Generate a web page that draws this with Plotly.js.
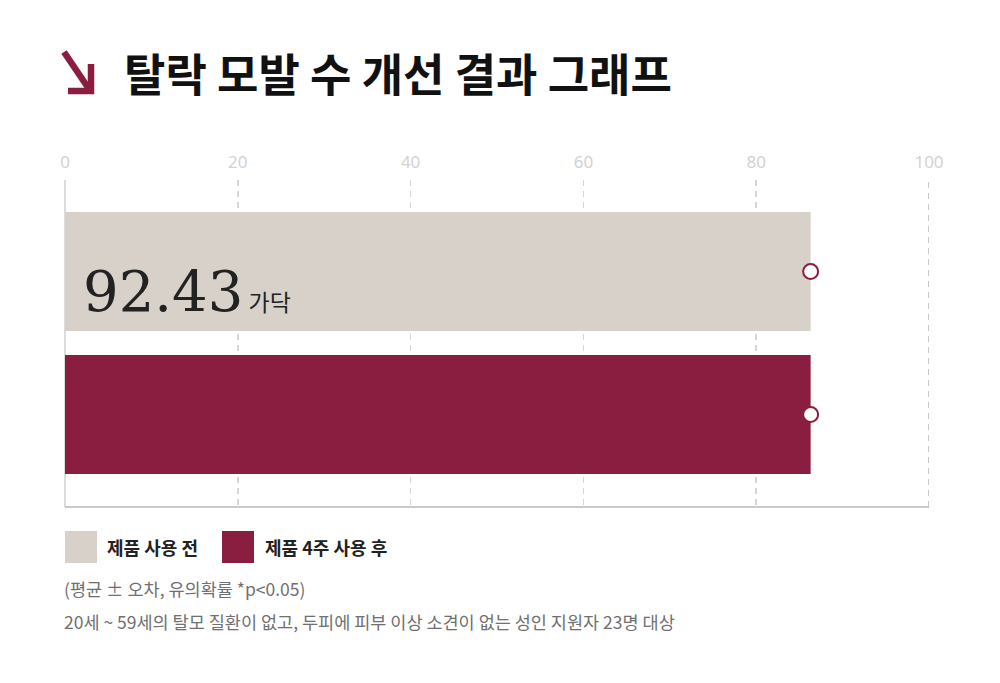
<!DOCTYPE html>
<html>
<head>
<meta charset="utf-8">
<script src="https://cdn.plot.ly/plotly-3.0.1.min.js"></script>
<style>
  body { margin: 0; background: #fff; }
  #chart { width: 1000px; height: 683px; }
</style>
</head>
<body>
<div id="chart"></div>
<script>
// data
var groups = ["제품 4주 사용 후", "제품 사용 전"];
var values = [86.3, 86.3];
var tickVals = [0, 20, 40, 60, 80, 100];
var resultLabel = "92.43";
var resultUnit = "가닥";
var titleText = "탈락 모발 수 개선 결과 그래프";
var noteLines = ["(평균 ± 오차, 유의확률 *p<0.05)",
  "20세 ~ 59세의 탈모 질환이 없고, 두피에 피부 이상 소견이 없는 성인 지원자 23명 대상"];

var BEIGE = "#d8d1ca", CRIMSON = "#8a1e40";
var barColors = [CRIMSON, BEIGE];

// plot area is 65..929 x 180..507 in page pixels
function PX(x) { return (x - 65) / 864; }
function PY(y) { return (507 - y) / 327; }

var bars = {
  type: "bar", orientation: "h",
  x: values, y: groups,
  width: 0.832,
  marker: { color: barColors },
  hoverinfo: "skip"
};

var ends = {
  type: "scatter", mode: "markers",
  x: values, y: groups,
  marker: { symbol: "circle", size: 15, color: "#fff", line: { color: CRIMSON, width: 2 } },
  hoverinfo: "skip"
};

var shapes = [
  // darker dashed line at 100
  { type: "line", xref: "x", yref: "paper", x0: 100, x1: 100, y0: 0, y1: 1,
    line: { color: "#b8b8b8", width: 1.5, dash: "6px,5px" } },
  // bottom axis
  { type: "line", xref: "paper", yref: "paper", x0: 0, x1: 1, y0: 0, y1: 0,
    line: { color: "#b8b8b8", width: 1.5 } },
  // title arrow
  { type: "path", xref: "paper", yref: "paper",
    path: "M " + PX(64) + "," + PY(52) + " L " + PX(89) + "," + PY(89),
    line: { color: CRIMSON, width: 6.5 } },
  { type: "path", xref: "paper", yref: "paper",
    path: "M " + PX(68) + "," + PY(91) + " L " + PX(91) + "," + PY(91) + " L " + PX(91) + "," + PY(64),
    line: { color: CRIMSON, width: 6.5 } },
  // legend squares
  { type: "rect", xref: "paper", yref: "paper", x0: PX(65), x1: PX(97), y0: PY(563), y1: PY(531),
    fillcolor: BEIGE, line: { width: 0 } },
  { type: "rect", xref: "paper", yref: "paper", x0: PX(222), x1: PX(254), y0: PY(563), y1: PY(531),
    fillcolor: CRIMSON, line: { width: 0 } }
];

var KR = "Noto Sans CJK KR";
var annotations = [
  { xref: "paper", yref: "paper", x: PX(122), y: PY(73), xanchor: "left", yanchor: "middle",
    text: "<b>" + titleText + "</b>", showarrow: false,
    font: { family: KR, size: 45, color: "#111" } },
  { xref: "x", yref: "y", x: 1.9, y: groups[1], yshift: -20, xanchor: "left", yanchor: "middle",
    text: resultLabel + "<span style='font-family:Noto Sans CJK KR;font-size:23px'> " + resultUnit + "</span>",
    showarrow: false, font: { family: "DejaVu Serif", size: 56, color: "#222" } },
  { xref: "paper", yref: "paper", x: PX(105), y: PY(547), xanchor: "left", yanchor: "middle",
    text: "<b>" + groups[1] + "</b>", showarrow: false, font: { family: KR, size: 18, color: "#222" } },
  { xref: "paper", yref: "paper", x: PX(263), y: PY(547), xanchor: "left", yanchor: "middle",
    text: "<b>" + groups[0] + "</b>", showarrow: false, font: { family: KR, size: 18, color: "#222" } },
  { xref: "paper", yref: "paper", x: PX(62), y: PY(588), xanchor: "left", yanchor: "middle",
    text: noteLines[0], showarrow: false, font: { family: KR, size: 17.5, color: "#707070" } },
  { xref: "paper", yref: "paper", x: PX(62), y: PY(621), xanchor: "left", yanchor: "middle",
    text: noteLines[1], showarrow: false, font: { family: KR, size: 17.5, color: "#707070" } }
];

var layout = {
  width: 1000, height: 683,
  margin: { l: 65, r: 71, t: 180, b: 176 },
  paper_bgcolor: "#fff", plot_bgcolor: "#fff",
  showlegend: false,
  barmode: "overlay",
  xaxis: {
    side: "top", range: [0, 100], tickvals: tickVals,
    ticks: "outside", ticklen: 4, tickcolor: "rgba(0,0,0,0)",
    tickfont: { family: "Noto Sans", size: 17, color: "#d2d2d2" },
    showgrid: true, gridcolor: "#d6d6d6", gridwidth: 1.5, griddash: "6px,5px",
    zeroline: true, zerolinecolor: "#dcdcdc", zerolinewidth: 2,
    showline: false, fixedrange: true
  },
  yaxis: {
    type: "category", categoryarray: groups, range: [-0.647, 1.64],
    showticklabels: false, showgrid: false, zeroline: false, showline: false, fixedrange: true
  },
  shapes: shapes,
  annotations: annotations
};

Plotly.newPlot("chart", [bars, ends], layout, { displayModeBar: false, staticPlot: true });
</script>
</body>
</html>
